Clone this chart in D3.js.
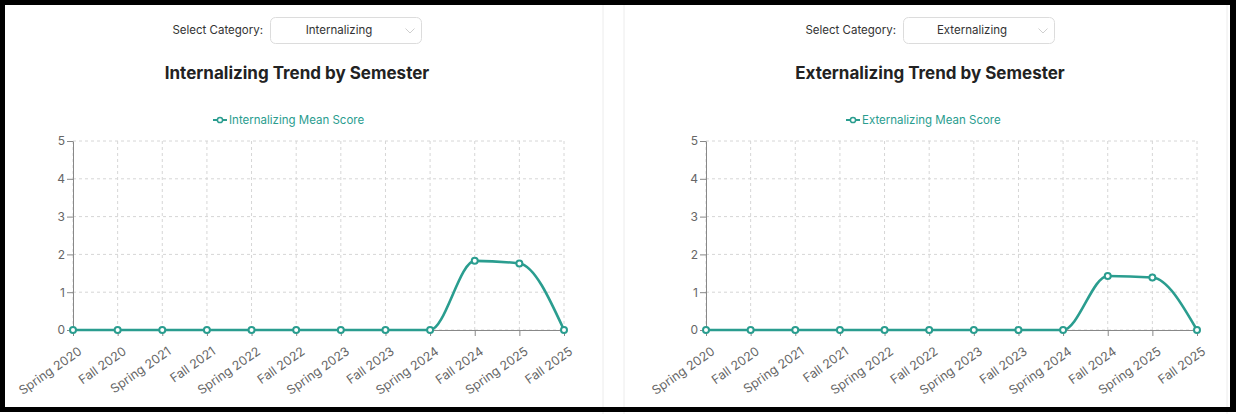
<!DOCTYPE html>
<html><head><meta charset="utf-8">
<script src="https://cdn.jsdelivr.net/npm/d3@7"></script>
<style>
body{margin:0;background:#fff;}
svg{display:block;font-family:Inter,"Noto Sans",sans-serif;}
</style>
</head><body>
<svg id="c" width="1236" height="414"></svg>
<script>
const semesters = ["Spring 2020","Fall 2020","Spring 2021","Fall 2021","Spring 2022","Fall 2022","Spring 2023","Fall 2023","Spring 2024","Fall 2024","Spring 2025","Fall 2025"];
const internalizing = [0,0,0,0,0,0,0,0,0,1.83,1.76,0];
const externalizing = [0,0,0,0,0,0,0,0,0,1.43,1.39,0];
const yTicks = [0,1,2,3,4,5];
const categories = ["Internalizing","Externalizing"];
const seriesValues = [internalizing, externalizing];

const svg = d3.select("#c");
const TEAL = "#2a9d8f";

// panel separators
[603,624,1227].forEach(xv=>{
  svg.append("line").attr("x1",xv).attr("x2",xv).attr("y1",0).attr("y2",414)
    .attr("stroke","#ececec").attr("stroke-width",1);
});

function drawPanel(dx, name, values){
  const g = svg.append("g").attr("transform",`translate(${dx},0)`);
  const x = d3.scalePoint().domain(semesters).range([73,564]);
  const y = d3.scaleLinear().domain([0,5]).range([330,141]);

  // select row
  g.append("text").attr("x",263).attr("y",30.5).attr("text-anchor","end")
    .attr("dominant-baseline","middle").attr("font-size",11.5).attr("fill","#333")
    .text("Select Category:");
  g.append("rect").attr("x",270.5).attr("y",17.5).attr("width",151).attr("height",26)
    .attr("rx",5).attr("fill","#fff").attr("stroke","#dcdcdc");
  g.append("text").attr("x",339).attr("y",31).attr("text-anchor","middle")
    .attr("dominant-baseline","middle").attr("font-size",11.5).attr("fill","#333")
    .text(name);
  g.append("path").attr("d","M405.5,28.5 L410,33 L414.5,28.5").attr("fill","none")
    .attr("stroke","#cfcfcf").attr("stroke-width",1);

  // title
  g.append("text").attr("x",297).attr("y",74).attr("text-anchor","middle")
    .attr("dominant-baseline","middle").attr("font-size",17).attr("font-weight",700)
    .attr("fill","#222").text(`${name} Trend by Semester`);

  // legend
  const lg = g.append("g");
  lg.append("line").attr("x1",213).attr("x2",227).attr("y1",120).attr("y2",120)
    .attr("stroke",TEAL).attr("stroke-width",2);
  lg.append("circle").attr("cx",220).attr("cy",120).attr("r",2.6)
    .attr("fill","#fff").attr("stroke",TEAL).attr("stroke-width",1.5);
  lg.append("text").attr("x",229).attr("y",120.5).attr("dominant-baseline","middle")
    .attr("font-size",11.5).attr("fill",TEAL).text(`${name} Mean Score`);

  // grid
  const grid = g.append("g").attr("stroke","#d6d6d6").attr("stroke-dasharray","3 3");
  yTicks.forEach(t=>{
    grid.append("line").attr("x1",73).attr("x2",564).attr("y1",y(t)).attr("y2",y(t));
  });
  semesters.forEach(s=>{
    grid.append("line").attr("x1",x(s)).attr("x2",x(s)).attr("y1",141).attr("y2",330);
  });

  // axes
  const xa = g.append("g").attr("transform","translate(0,330)")
    .call(d3.axisBottom(x).tickSize(6).tickSizeOuter(0));
  xa.select(".domain").attr("stroke","#888");
  xa.selectAll(".tick line").attr("stroke","#888");
  xa.selectAll(".tick text").attr("fill","#666").attr("font-size",12.5)
    .attr("font-family","Inter,'Noto Sans',sans-serif")
    .attr("text-anchor","end").attr("y",0).attr("dy","0.71em")
    .attr("transform","translate(4,16) rotate(-35)");

  const ya = g.append("g").attr("transform","translate(73,0)")
    .call(d3.axisLeft(y).tickValues(yTicks).tickFormat(d3.format("d"))
      .tickSize(6).tickSizeOuter(0).tickPadding(2));
  ya.select(".domain").attr("stroke","#888");
  ya.selectAll(".tick line").attr("stroke","#888");
  ya.selectAll(".tick text").attr("fill","#666").attr("font-size",12)
    .attr("font-family","Inter,'Noto Sans',sans-serif");

  // line
  const data = semesters.map((s,i)=>({s, v: values[i]}));
  const line = d3.line().x(d=>x(d.s)).y(d=>y(d.v)).curve(d3.curveMonotoneX);
  g.append("path").datum(data).attr("d",line).attr("fill","none")
    .attr("stroke",TEAL).attr("stroke-width",2.6);
  g.selectAll("circle.dot").data(data).enter().append("circle").attr("class","dot")
    .attr("cx",d=>x(d.s)).attr("cy",d=>y(d.v)).attr("r",3)
    .attr("fill","#fff").attr("stroke",TEAL).attr("stroke-width",2);
}

categories.forEach((c,i)=>drawPanel(i*633, c, seriesValues[i]));

// outer black frame
svg.append("rect").attr("x",0).attr("y",0).attr("width",1236).attr("height",5).attr("fill","#000");
svg.append("rect").attr("x",0).attr("y",0).attr("width",5).attr("height",412).attr("fill","#000");
svg.append("rect").attr("x",1230).attr("y",0).attr("width",6).attr("height",412).attr("fill","#000");
svg.append("rect").attr("x",0).attr("y",407).attr("width",1236).attr("height",5).attr("fill","#000");
</script>
</body></html>
